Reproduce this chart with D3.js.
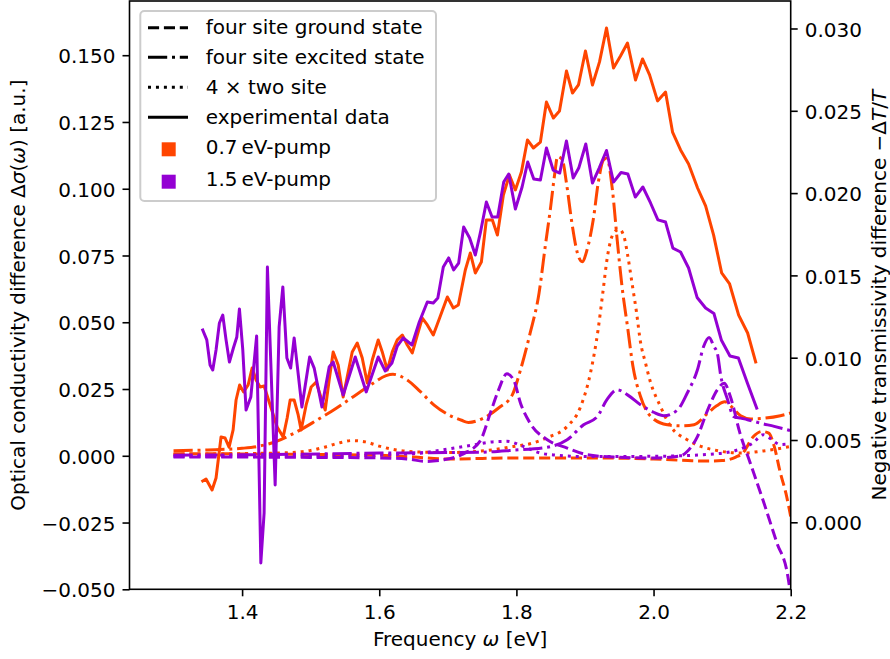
<!DOCTYPE html>
<html>
<head>
<meta charset="utf-8">
<script src="https://cdn.jsdelivr.net/npm/d3@7"></script>
<style>
  body { margin: 0; background: #fff; }
  svg { display: block; font-family: "DejaVu Sans", sans-serif; }
</style>
</head>
<body>
<div id="chart"></div>
<script>
// experimental data (right axis, -dT/T)
const exp07X = [1.3426,1.3474,1.3562,1.3620,1.3693,1.3752,1.3810,1.3869,1.3912,1.3964,1.4022,1.4088,1.4146,1.4204,1.4263,1.4321,1.4423,1.4511,1.4599,1.4657,1.4701,1.4759,1.4818,1.4861,1.4934,1.5007,1.5080,1.5139,1.5212,1.5270,1.5328,1.5401,1.5474,1.5547,1.5606,1.5679,1.5752,1.5825,1.5898,1.5985,1.6044,1.6117,1.6190,1.6263,1.6336,1.6409,1.6482,1.6555,1.6628,1.6701,1.6788,1.6891,1.6993,1.7080,1.7153,1.7255,1.7328,1.7401,1.7489,1.7562,1.7650,1.7723,1.7810,1.7898,1.7985,1.8073,1.8161,1.8248,1.8350,1.8438,1.8540,1.8628,1.8730,1.8818,1.8905,1.9007,1.9109,1.9212,1.9314,1.9416,1.9518,1.9620,1.9737,1.9839,1.9942,2.0058,2.0175,2.0277,2.0394,2.0511,2.0642,2.0759,2.0876,2.0993,2.1109,2.1241,2.1372,2.1489];
const exp07Y = [0.00251,0.00263,0.00196,0.00269,0.00518,0.00512,0.00457,0.00561,0.00743,0.00834,0.00792,0.00834,0.00937,0.00865,0.00822,0.00828,0.00694,0.00579,0.00518,0.00634,0.00743,0.00743,0.00652,0.00561,0.00713,0.00822,0.00852,0.00773,0.00682,0.00865,0.01035,0.00956,0.00761,0.00913,0.01035,0.01089,0.00998,0.00846,0.00986,0.01108,0.01035,0.00925,0.01035,0.01108,0.01138,0.01077,0.01029,0.01138,0.01241,0.01199,0.01138,0.01253,0.01369,0.01302,0.01320,0.01533,0.01636,0.01515,0.01581,0.01837,0.01837,0.01745,0.01988,0.02110,0.02019,0.02128,0.02323,0.02274,0.02310,0.02553,0.02456,0.02499,0.02742,0.02608,0.02657,0.02863,0.02657,0.02797,0.03003,0.02760,0.02833,0.02912,0.02687,0.02815,0.02718,0.02560,0.02614,0.02371,0.02262,0.02177,0.02031,0.01922,0.01745,0.01515,0.01448,0.01259,0.01150,0.00974];

const exp15X = [1.3426,1.3485,1.3533,1.3572,1.3620,1.3669,1.3718,1.3766,1.3815,1.3873,1.3923,1.3961,1.4010,1.4058,1.4127,1.4212,1.4273,1.4321,1.4369,1.4482,1.4540,1.4594,1.4653,1.4708,1.4759,1.4872,1.4985,1.5051,1.5164,1.5270,1.5328,1.5474,1.5650,1.5810,1.5985,1.6088,1.6185,1.6263,1.6350,1.6477,1.6584,1.6701,1.6788,1.6854,1.6934,1.7012,1.7085,1.7158,1.7231,1.7318,1.7401,1.7474,1.7562,1.7645,1.7727,1.7815,1.7888,1.7985,1.8083,1.8165,1.8253,1.8350,1.8438,1.8536,1.8632,1.8730,1.8828,1.8909,1.9012,1.9109,1.9207,1.9314,1.9416,1.9526,1.9625,1.9734,1.9844,1.9956,2.0063,2.0175,2.0282,2.0394,2.0511,2.0635,2.0759,2.0880,2.0988,2.1114,2.1237,2.1368,2.1504];
const exp15Y = [0.01168,0.01108,0.00956,0.00925,0.01047,0.01211,0.01259,0.01108,0.00974,0.01059,0.01126,0.01296,0.01047,0.00682,0.00761,0.01132,-0.00247,0.00057,0.01551,0.00227,0.01187,0.01430,0.00998,0.00937,0.01120,0.00700,0.01004,0.00937,0.00700,0.00944,0.00974,0.00773,0.01004,0.00792,0.01004,0.00919,0.00968,0.01071,0.01120,0.01077,0.01217,0.01338,0.01332,0.01363,0.01551,0.01606,0.01533,0.01575,0.01794,0.01727,0.01624,0.01758,0.01946,0.01855,0.01855,0.02067,0.02116,0.01903,0.02037,0.02189,0.02086,0.02080,0.02274,0.02140,0.02122,0.02317,0.02092,0.02152,0.02298,0.02061,0.02152,0.02259,0.02067,0.02125,0.02116,0.01976,0.02037,0.01940,0.01837,0.01824,0.01666,0.01642,0.01545,0.01366,0.01302,0.01269,0.01108,0.01010,0.00998,0.00846,0.00694];

// theory (left axis, delta sigma)
const gs07X = [1.30,1.40,1.50,1.60,1.65,1.70,1.75,1.80,1.90,2.00,2.05,2.08,2.10,2.12,2.13,2.145,2.158,2.168,2.176,2.185,2.193,2.20];
const gs07Y = [0.0008,0.0007,0.0005,0.0002,-0.0005,-0.0012,-0.0010,-0.0008,-0.0008,-0.0012,-0.0018,-0.0020,-0.0018,-0.0005,0.0010,0.0070,0.0091,0.0085,0.0035,-0.0065,-0.0140,-0.0227];

const ex07X = [1.30,1.35,1.40,1.425,1.45,1.466,1.485,1.51,1.53,1.55,1.57,1.59,1.61,1.62,1.64,1.66,1.68,1.70,1.72,1.73,1.752,1.774,1.794,1.806,1.82,1.833,1.842,1.85,1.856,1.86,1.867,1.873,1.881,1.889,1.896,1.903,1.912,1.92,1.927,1.932,1.94,1.947,1.954,1.962,1.97,1.981,1.996,2.02,2.04,2.059,2.078,2.092,2.104,2.114,2.127,2.142,2.163,2.185,2.20];
const ex07Y = [0.0019,0.0022,0.0028,0.0036,0.0054,0.0072,0.0097,0.0135,0.0166,0.0200,0.0235,0.0270,0.0300,0.0305,0.0285,0.0240,0.0190,0.0155,0.0133,0.0125,0.0141,0.0179,0.0228,0.0322,0.0459,0.0609,0.0783,0.0933,0.1058,0.1120,0.1108,0.1021,0.0871,0.0759,0.0727,0.0771,0.0883,0.1033,0.1108,0.1114,0.0996,0.0808,0.0634,0.0484,0.0334,0.0222,0.0147,0.0116,0.0112,0.0116,0.0157,0.0187,0.0202,0.0183,0.0150,0.0138,0.0141,0.0150,0.0160];

const two07X = [1.30,1.40,1.47,1.50,1.52,1.54,1.56,1.58,1.60,1.62,1.66,1.70,1.74,1.77,1.796,1.82,1.845,1.874,1.893,1.908,1.919,1.926,1.933,1.941,1.950,1.957,1.962,1.969,1.975,1.981,1.988,1.995,2.01,2.025,2.049,2.069,2.088,2.127,2.16,2.20];
const two07Y = [0.0005,0.0008,0.0012,0.0020,0.0032,0.0047,0.0057,0.0052,0.0036,0.0024,0.0014,0.0012,0.0016,0.0024,0.0035,0.0045,0.0068,0.0110,0.0180,0.0310,0.0470,0.0610,0.0750,0.0830,0.0848,0.0820,0.0755,0.0640,0.0540,0.0425,0.0350,0.0280,0.0185,0.0110,0.0060,0.0035,0.0022,0.0010,0.0018,0.0035];

const gs15X = [1.30,1.40,1.50,1.60,1.64,1.67,1.694,1.72,1.747,1.762,1.774,1.786,1.796,1.806,1.820,1.845,1.874,1.903,1.942,2.00,2.04,2.049,2.064,2.079,2.093,2.103,2.112,2.126,2.141,2.161,2.18,2.195,2.20];
const gs15Y = [-0.0005,-0.0005,-0.0006,-0.0008,-0.0012,-0.0021,-0.0015,0.0004,0.0055,0.0160,0.0247,0.0307,0.0284,0.0197,0.0122,0.0060,0.0029,0.0004,-0.0005,-0.0008,0.0000,0.0016,0.0072,0.0172,0.0247,0.0272,0.0222,0.0085,-0.0027,-0.0177,-0.0327,-0.0439,-0.0520];

const ex15X = [1.30,1.45,1.60,1.70,1.747,1.796,1.845,1.874,1.898,1.918,1.932,1.947,1.962,1.981,2.000,2.015,2.035,2.049,2.064,2.073,2.081,2.088,2.093,2.098,2.108,2.117,2.127,2.137,2.156,2.176,2.20];
const ex15Y = [0.0002,0.0005,0.0010,0.0012,0.0013,0.0021,0.0032,0.0060,0.0116,0.0147,0.0210,0.0247,0.0228,0.0191,0.0163,0.0150,0.0172,0.0234,0.0322,0.0409,0.0443,0.0409,0.0384,0.0300,0.0210,0.0147,0.0141,0.0135,0.0122,0.0110,0.0094];

const two15X = [1.30,1.50,1.65,1.70,1.738,1.765,1.786,1.81,1.835,1.86,1.90,2.00,2.08,2.12,2.145,2.16,2.17,2.185,2.20];
const two15Y = [-0.0003,-0.0002,0.0008,0.0025,0.0041,0.0052,0.0054,0.0035,0.0010,0.0002,-0.0003,-0.0002,0.0005,0.0020,0.0048,0.0079,0.0065,0.0042,0.0045];

const xTicks = [1.4, 1.6, 1.8, 2.0, 2.2];
const yLeftTicks = [-0.050, -0.025, 0.000, 0.025, 0.050, 0.075, 0.100, 0.125, 0.150];
const yRightTicks = [0.000, 0.005, 0.010, 0.015, 0.020, 0.025, 0.030];

const styleLabels = ['four site ground state', 'four site excited state', '4 \u00d7  two site', 'experimental data'];
const pumpLabels = ['0.7\u2009eV-pump', '1.5\u2009eV-pump'];

const orange = '#ff4500';
const purple = '#9400d3';
const dashes = { dashed: '11.1,4.8', dashdot: '19.2,4.8,3,4.8', dotted: '3,4.95', solid: null };

const w = 890, h = 659;
const plotL = 129.5, plotR = 790.7, plotT = 1, plotB = 589.3;

const svg = d3.select('#chart').append('svg')
  .attr('width', w)
  .attr('height', h);

const xScale = d3.scaleLinear().domain([1.2358, 2.2]).range([plotL, plotR]);
const yLeft = d3.scaleLinear().domain([-0.05, 0.1703]).range([plotB, plotT]);
const yRight = d3.scaleLinear().domain([-0.00407, 0.03167]).range([plotB, plotT]);

svg.append('clipPath').attr('id', 'plotclip')
  .append('rect')
  .attr('x', plotL).attr('y', plotT)
  .attr('width', plotR - plotL).attr('height', plotB - plotT);

function pairs(xs, ys) {
  return xs.map((v, i) => [v, ys[i]]);
}

const lineLeft = d3.line()
  .x(d => xScale(d[0]))
  .y(d => yLeft(d[1]))
  .curve(d3.curveMonotoneX);
const lineRight = d3.line()
  .x(d => xScale(d[0]))
  .y(d => yRight(d[1]));

const plot = svg.append('g').attr('clip-path', 'url(#plotclip)');

const theory = [
  [gs07X, gs07Y, orange, 'dashed'],
  [ex07X, ex07Y, orange, 'dashdot'],
  [two07X, two07Y, orange, 'dotted'],
  [gs15X, gs15Y, purple, 'dashed'],
  [ex15X, ex15Y, purple, 'dashdot'],
  [two15X, two15Y, purple, 'dotted']
];
theory.forEach(t => {
  plot.append('path')
    .datum(pairs(t[0], t[1]))
    .attr('d', lineLeft)
    .attr('fill', 'none')
    .attr('stroke', t[2])
    .attr('stroke-width', 3)
    .attr('stroke-dasharray', dashes[t[3]])
    .attr('stroke-linejoin', 'round');
});

[[exp07X, exp07Y, orange], [exp15X, exp15Y, purple]].forEach(e => {
  plot.append('path')
    .datum(pairs(e[0], e[1]))
    .attr('d', lineRight)
    .attr('fill', 'none')
    .attr('stroke', e[2])
    .attr('stroke-width', 3)
    .attr('stroke-linejoin', 'round')
    .attr('stroke-linecap', 'square');
});

// axes
function styleAxis(g) {
  g.select('.domain').remove();
  g.selectAll('.tick line').attr('stroke', '#000').attr('stroke-width', 1.6);
  g.selectAll('.tick text')
    .attr('fill', '#000')
    .style('font-family', '"DejaVu Sans", sans-serif')
    .style('font-size', '20px');
}

svg.append('g')
  .attr('transform', 'translate(0,' + plotB + ')')
  .call(d3.axisBottom(xScale).tickValues(xTicks).tickFormat(d3.format('.1f')).tickSize(7).tickPadding(7))
  .call(styleAxis)
  .selectAll('.tick text').attr('dy', '0.81em');

svg.append('g')
  .attr('transform', 'translate(' + plotL + ',0)')
  .call(d3.axisLeft(yLeft).tickValues(yLeftTicks).tickFormat(d3.format('.3f')).tickSize(7).tickPadding(7))
  .call(styleAxis)
  .selectAll('.tick text').attr('dy', '0.38em');

svg.append('g')
  .attr('transform', 'translate(' + plotR + ',0)')
  .call(d3.axisRight(yRight).tickValues(yRightTicks).tickFormat(d3.format('.3f')).tickSize(7).tickPadding(7))
  .call(styleAxis)
  .selectAll('.tick text').attr('dy', '0.38em');

svg.append('rect')
  .attr('x', plotL).attr('y', plotT)
  .attr('width', plotR - plotL).attr('height', plotB - plotT)
  .attr('fill', 'none')
  .attr('stroke', '#000')
  .attr('stroke-width', 1.6);

// axis labels
const xl = svg.append('text')
  .attr('x', (plotL + plotR) / 2).attr('y', 646)
  .attr('text-anchor', 'middle')
  .style('font-size', '20px');
xl.append('tspan').text('Frequency ');
xl.append('tspan').style('font-style', 'oblique').text('\u03c9');
xl.append('tspan').text(' [eV]');

const yl = svg.append('text')
  .attr('transform', 'translate(24.5,' + (plotT + plotB) / 2 + ') rotate(-90)')
  .attr('text-anchor', 'middle')
  .style('font-size', '20px');
yl.append('tspan').text('Optical conductivity difference \u0394');
yl.append('tspan').style('font-style', 'oblique').text('\u03c3');
yl.append('tspan').text('(');
yl.append('tspan').style('font-style', 'oblique').text('\u03c9');
yl.append('tspan').text(') [a.u.]');

const yr = svg.append('text')
  .attr('transform', 'translate(886,' + (plotT + plotB) / 2 + ') rotate(-90)')
  .attr('text-anchor', 'middle')
  .style('font-size', '20px');
yr.append('tspan').text('Negative transmissivity difference \u2212\u0394');
yr.append('tspan').style('font-style', 'oblique').text('T');
yr.append('tspan').text('/');
yr.append('tspan').style('font-style', 'oblique').text('T');

// legend
const legend = svg.append('g');
legend.append('rect')
  .attr('x', 140.3).attr('y', 11)
  .attr('width', 295.7).attr('height', 190)
  .attr('rx', 4)
  .attr('fill', '#fff').attr('fill-opacity', 0.8)
  .attr('stroke', '#cccccc').attr('stroke-width', 2);

const lineRows = [27.7, 57.3, 87.3, 117.3];
const lineBase = [34.3, 64.3, 94.3, 124.3];
const styleKeys = ['dashed', 'dashdot', 'dotted', 'solid'];
styleLabels.forEach((lab, i) => {
  legend.append('line')
    .attr('x1', 148).attr('x2', 188)
    .attr('y1', lineRows[i]).attr('y2', lineRows[i])
    .attr('stroke', '#000').attr('stroke-width', 3)
    .attr('stroke-dasharray', dashes[styleKeys[i]]);
  legend.append('text')
    .attr('x', 205.7).attr('y', lineBase[i])
    .style('font-size', '20px')
    .text(lab);
});

const pumpRows = [149.3, 181.7];
const pumpBase = [154, 186];
[orange, purple].forEach((c, i) => {
  legend.append('rect')
    .attr('x', 161.7).attr('y', pumpRows[i] - 7)
    .attr('width', 14).attr('height', 14)
    .attr('fill', c);
  legend.append('text')
    .attr('x', 205.7).attr('y', pumpBase[i])
    .style('font-size', '20px')
    .text(pumpLabels[i]);
});
</script>
</body>
</html>
